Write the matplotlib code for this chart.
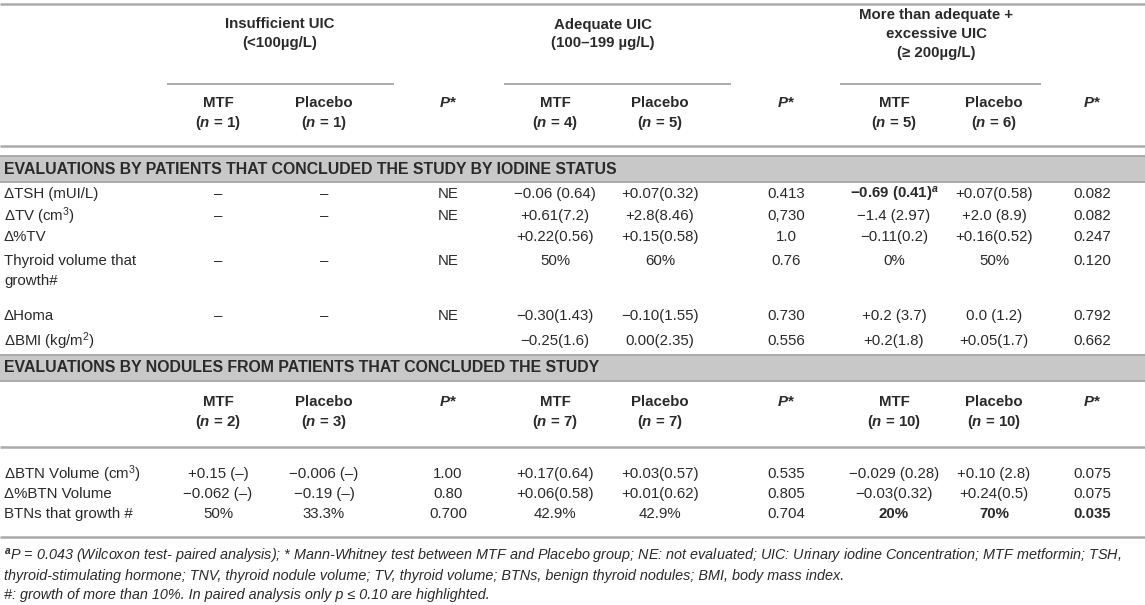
import matplotlib
matplotlib.use('Agg')
import matplotlib.pyplot as plt
from matplotlib import font_manager

# ---- data ----
group_titles = [['Insufficient UIC', '(<100µg/L)'],
                ['Adequate UIC', '(100–199 µg/L)'],
                ['More than adequate +', 'excessive UIC', '(≥ 200µg/L)']]
arms = ['MTF', 'Placebo']
n_patients = [1, 1, 4, 5, 5, 6]
n_nodules = [2, 3, 7, 7, 10, 10]

section_titles = ['EVALUATIONS BY PATIENTS THAT CONCLUDED THE STUDY BY IODINE STATUS',
                  'EVALUATIONS BY NODULES FROM PATIENTS THAT CONCLUDED THE STUDY']

pat_labels = ['ΔTSH (mUI/L)', 'ΔTV (cm$^3$)', 'Δ%TV', 'Thyroid volume that\ngrowth#',
              'ΔHoma', 'ΔBMI (kg/m$^2$)']
pat_ins_mtf = ['–', '–', '', '–', '–', '']
pat_ins_plc = ['–', '–', '', '–', '–', '']
pat_ins_p = ['NE', 'NE', '', 'NE', 'NE', '']
pat_ade_mtf = ['−0.06 (0.64)', '+0.61(7.2)', '+0.22(0.56)', '50%', '−0.30(1.43)', '−0.25(1.6)']
pat_ade_plc = ['+0.07(0.32)', '+2.8(8.46)', '+0.15(0.58)', '60%', '−0.10(1.55)', '0.00(2.35)']
pat_ade_p = ['0.413', '0,730', '1.0', '0.76', '0.730', '0.556']
pat_exc_mtf = ['−0.69 (0.41)$^a$', '−1.4 (2.97)', '−0.11(0.2)', '0%', '+0.2 (3.7)', '+0.2(1.8)']
pat_exc_plc = ['+0.07(0.58)', '+2.0 (8.9)', '+0.16(0.52)', '50%', '0.0 (1.2)', '+0.05(1.7)']
pat_exc_p = ['0.082', '0.082', '0.247', '0.120', '0.792', '0.662']
pat_bold = [(0, 6)]

nod_labels = ['ΔBTN Volume (cm$^3$)', 'Δ%BTN Volume', 'BTNs that growth #']
nod_ins_mtf = ['+0.15 (–)', '−0.062 (–)', '50%']
nod_ins_plc = ['−0.006 (–)', '−0.19 (–)', '33.3%']
nod_ins_p = ['1.00', '0.80', '0.700']
nod_ade_mtf = ['+0.17(0.64)', '+0.06(0.58)', '42.9%']
nod_ade_plc = ['+0.03(0.57)', '+0.01(0.62)', '42.9%']
nod_ade_p = ['0.535', '0.805', '0.704']
nod_exc_mtf = ['−0.029 (0.28)', '−0.03(0.32)', '20%']
nod_exc_plc = ['+0.10 (2.8)', '+0.24(0.5)', '70%']
nod_exc_p = ['0.075', '0.075', '0.035']
nod_bold = [(2, 6), (2, 7), (2, 8)]

footnotes = ['$^a$P = 0.043 (Wilcoxon test- paired analysis); * Mann-Whitney test between MTF and Placebo group; '
             'NE: not evaluated; UIC: Urinary iodine Concentration; MTF metformin; TSH,',
             'thyroid-stimulating hormone; TNV, thyroid nodule volume; TV, thyroid volume; '
             'BTNs, benign thyroid nodules; BMI, body mass index.',
             '#: growth of more than 10%. In paired analysis only p ≤ 0.10 are highlighted.']

# ---- layout ----
W, H = 1145, 605
TXT = '#2a2a2a'
RULE = '#ababab'
BAND = '#c8c8c8'
FS = 10.8

names = [f.name for f in font_manager.fontManager.ttflist]
narrow = 'Liberation Sans Narrow' if 'Liberation Sans Narrow' in names else 'Liberation Sans'

plt.rcParams['font.family'] = ['Liberation Sans', 'DejaVu Sans']
plt.rcParams['mathtext.fontset'] = 'custom'
plt.rcParams['mathtext.rm'] = 'Liberation Sans'
plt.rcParams['mathtext.it'] = 'Liberation Sans:italic:bold'
plt.rcParams['mathtext.bf'] = 'Liberation Sans:bold'

col_x = [218, 324, 448, 555, 660, 786, 894, 994, 1092]
group_span = [(167, 394), (504, 731), (840, 1041)]
group_cx = [280, 603, 936]

fig = plt.figure(figsize=(W / 100, H / 100), dpi=100)
ax = fig.add_axes([0, 0, 1, 1])
ax.set_xlim(0, W)
ax.set_ylim(H, 0)
ax.axis('off')


def put(x, y, s, ha='center', **kw):
    kw.setdefault('fontsize', FS)
    kw.setdefault('color', TXT)
    ax.text(x, y, s, ha=ha, va='center', **kw)


def rule(y, x0=0, x1=W, lw=1.8):
    ax.plot([x0, x1], [y, y], color=RULE, lw=lw, solid_capstyle='butt')


def band(y0, y1, title):
    ax.add_patch(plt.Rectangle((0, y0), W, y1 - y0, facecolor=BAND, edgecolor='none'))
    rule(y0, lw=1.4)
    rule(y1, lw=1.4)
    put(4, (y0 + y1) / 2, title, ha='left', fontweight='bold', fontsize=11.4)


def col_headers(y1, y2, ns):
    for g in range(3):
        for k in range(2):
            x = col_x[g * 3 + k]
            put(x, y1, arms[k], fontweight='bold')
            put(x, y2, '($n$ = %d)' % ns[g * 2 + k], fontweight='bold')
        put(col_x[g * 3 + 2], y1, '$P$*', fontweight='bold')


# group headers
rule(4)
for g, lines in enumerate(group_titles):
    y0 = 34 - (len(lines) - 1) * 9.5
    for i, t in enumerate(lines):
        put(group_cx[g], y0 + i * 19, t, fontweight='bold')
    rule(84, group_span[g][0], group_span[g][1], lw=1.4)
col_headers(103, 123, n_patients)
rule(146)

# section 1
band(156, 182, section_titles[0])
pat_cols = [pat_ins_mtf, pat_ins_plc, pat_ins_p, pat_ade_mtf, pat_ade_plc, pat_ade_p,
            pat_exc_mtf, pat_exc_plc, pat_exc_p]
pat_y = [194, 216, 237, 261, 316, 341]
for r, lab in enumerate(pat_labels):
    y = pat_y[r]
    parts = lab.split('\n')
    for i, p in enumerate(parts):
        put(4, y + i * 20, p, ha='left')
    for c, col in enumerate(pat_cols):
        bold = (r, c) in pat_bold
        put(col_x[c], y, col[r], fontweight='bold' if bold else 'normal')

# section 2
band(355, 381, section_titles[1])
col_headers(402, 422, n_nodules)
rule(447)
nod_cols = [nod_ins_mtf, nod_ins_plc, nod_ins_p, nod_ade_mtf, nod_ade_plc, nod_ade_p,
            nod_exc_mtf, nod_exc_plc, nod_exc_p]
nod_y = [474, 494, 514]
for r, lab in enumerate(nod_labels):
    y = nod_y[r]
    put(4, y, lab, ha='left')
    for c, col in enumerate(nod_cols):
        bold = (r, c) in nod_bold
        put(col_x[c], y, col[r], fontweight='bold' if bold else 'normal')
rule(537)

# footnotes
for i, t in enumerate(footnotes):
    put(4, 557 + i * 19, t, ha='left', fontsize=10.4, style='italic',
        family=[narrow, 'DejaVu Sans'])

fig.savefig('out.png', dpi=100)
